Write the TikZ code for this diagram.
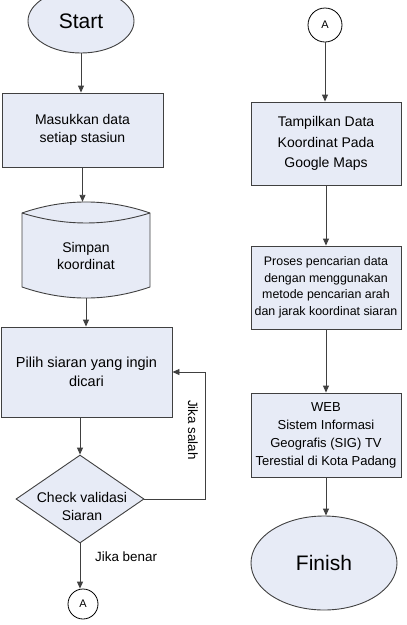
\documentclass[tikz,border=0pt]{standalone}
\usepackage{fontspec}
\setmainfont{Liberation Sans}
\usetikzlibrary{shapes.geometric,arrows.meta,calc}
\definecolor{fillc}{HTML}{E7EBF6}
\definecolor{linec}{HTML}{404040}
\tikzset{
  base/.style={draw=linec, fill=fillc, line width=0.9pt, inner sep=0pt, align=center},
  procbox/.style={base, rectangle, font=\fontsize{14}{18}\selectfont},
  term/.style={base, ellipse, font=\fontsize{21}{24}\selectfont},
  conn/.style={draw=black, fill=white, line width=0.8pt, circle, inner sep=0pt, font=\fontsize{11}{13}\selectfont},
  arr/.style={draw=linec, line width=0.9pt, -{Triangle[length=7pt,width=6pt]}},
  lbl/.style={font=\fontsize{13.4}{16}\selectfont, inner sep=0pt}
}
\begin{document}
\begin{tikzpicture}[x=1pt,y=-1pt]
\useasboundingbox (0,0) rectangle (407,625);
% left column
\node[term, minimum width=106pt, minimum height=64pt] (start) at (81,21) {Start};
\node[procbox, minimum width=161pt, minimum height=74pt] (box1) at (82.5,130) {Masukkan data\\ setiap stasiun};
% cylinder
\node[inner sep=0pt, minimum width=128pt, minimum height=96pt] (cyl) at (86,250) {};
\filldraw[draw=linec, fill=fillc, line width=0.9pt]
  (22,213) -- (22,287) .. controls (64.7,301.7) and (107.3,301.7) .. (150,287)
  -- (150,213) .. controls (107.3,198.3) and (64.7,198.3) .. (22,213) -- cycle;
\draw[draw=linec, line width=0.9pt] (22,213) .. controls (64.7,226.3) and (107.3,226.3) .. (150,213);
\node[font=\fontsize{14}{17}\selectfont, align=center] (cyltxt) at (86,256) {Simpan\\koordinat};
\node[procbox, font=\fontsize{14.5}{19}\selectfont, minimum width=171pt, minimum height=90pt] (box2) at (86.5,372) {Pilih siaran yang ingin\\dicari};
\node[base, diamond, minimum width=128pt, minimum height=88pt] (chk) at (80,499) {};
\node[font=\fontsize{14}{18}\selectfont, align=center] (chktxt) at (82,506) {Check validasi\\Siaran};
\node[conn, minimum size=30pt] (a1) at (83,604) {A};
\coordinate (fb) at (205,372);
\node[lbl, rotate=-90] (salah) at (193,430) {Jika salah};
\node[lbl, anchor=west] (benar) at (95,557) {Jika benar};
% right column
\node[conn, minimum size=34pt] (a2) at (325,25) {A};
\node[procbox, minimum width=150pt, minimum height=83pt, font=\fontsize{14}{20.5}\selectfont] (box3) at (326,143.5) {Tampilkan Data\\Koordinat Pada\\Google Maps};
\node[procbox, minimum width=150pt, minimum height=83pt, font=\fontsize{12.4}{16.5}\selectfont] (box4) at (326,287.5) {Proses pencarian data\\dengan menggunakan\\metode pencarian arah\\dan jarak koordinat siaran};
\node[procbox, minimum width=150pt, minimum height=84pt, font=\fontsize{13}{18}\selectfont] (box5) at (326,435) {WEB\\Sistem Informasi\\Geografis (SIG) TV\\Terestial di Kota Padang};
\node[term, minimum width=146pt, minimum height=94pt] (finish) at (324,563) {Finish};
% connectors
\draw[arr] (start.south) -- (start.south |- box1.north);
\draw[arr] (box1.south) -- (box1.south |- cyl.north);
\draw[arr] (cyl.south) -- (cyl.south |- box2.north);
\draw[arr] (chk.north |- box2.south) -- (chk.north);
\draw[arr] (chk.south) -- (chk.south |- a1.north);
\draw[arr] (chk.east) -| (fb) -- (box2.east);
\draw[arr] (a2.south) -- (a2.south |- box3.north);
\draw[arr] (box3.south) -- (box4.north);
\draw[arr] (box4.south) -- (box5.north);
\draw[arr] (box5.south) -- (box5.south |- finish.north);
\end{tikzpicture}
\end{document}
